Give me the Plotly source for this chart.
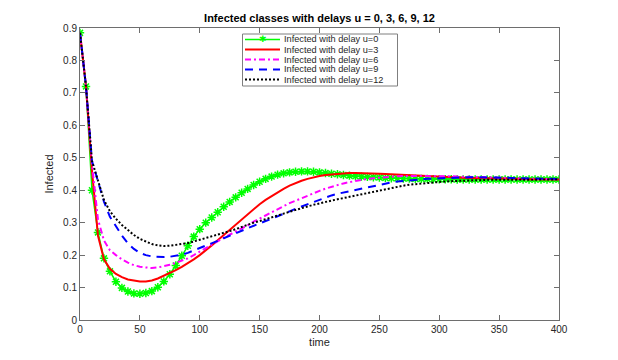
import plotly.graph_objects as go

time = list(range(0, 405, 5))

infected_u0 = [0.885, 0.72, 0.40, 0.27, 0.19, 0.15, 0.118, 0.099, 0.088, 0.082,
               0.081, 0.083, 0.089, 0.101, 0.119, 0.141, 0.168, 0.198, 0.229, 0.257,
               0.28, 0.30, 0.316, 0.332, 0.349, 0.364, 0.378, 0.392, 0.404, 0.416,
               0.426, 0.435, 0.442, 0.448, 0.452, 0.455, 0.457, 0.458, 0.458, 0.457,
               0.455, 0.453, 0.451, 0.449, 0.447, 0.445, 0.443, 0.442, 0.441, 0.44,
               0.439, 0.438, 0.437, 0.437, 0.436, 0.436, 0.435, 0.435, 0.435, 0.434,
               0.434, 0.434, 0.434, 0.433, 0.433, 0.433, 0.433, 0.433, 0.433, 0.433,
               0.433, 0.433, 0.433, 0.433, 0.433, 0.433, 0.433, 0.433, 0.433, 0.433,
               0.433]
infected_u3 = [0.885, 0.72, 0.46, 0.26, 0.187, 0.158, 0.142, 0.132, 0.125, 0.121,
               0.119, 0.119, 0.122, 0.128, 0.136, 0.145, 0.154, 0.164, 0.175, 0.187,
               0.2, 0.214, 0.23, 0.246, 0.262, 0.279, 0.296, 0.312, 0.328, 0.343,
               0.357, 0.37, 0.382, 0.393, 0.404, 0.414, 0.422, 0.429, 0.435, 0.44,
               0.444, 0.447, 0.449, 0.451, 0.452, 0.453, 0.453, 0.453, 0.452, 0.452,
               0.451, 0.45, 0.449, 0.448, 0.447, 0.446, 0.445, 0.444, 0.443, 0.442,
               0.441, 0.44, 0.44, 0.439, 0.439, 0.438, 0.438, 0.437, 0.437, 0.436,
               0.436, 0.436, 0.435, 0.435, 0.435, 0.434, 0.434, 0.434, 0.434, 0.434,
               0.433]
infected_u6 = [0.885, 0.72, 0.48, 0.31, 0.245, 0.215, 0.2, 0.187, 0.177, 0.169,
               0.164, 0.161, 0.16, 0.162, 0.165, 0.17, 0.176, 0.182, 0.19, 0.2,
               0.211, 0.22, 0.231, 0.242, 0.253, 0.263, 0.272, 0.282, 0.292, 0.303,
               0.313, 0.323, 0.333, 0.342, 0.351, 0.36, 0.368, 0.376, 0.383, 0.39,
               0.398, 0.405, 0.411, 0.416, 0.421, 0.425, 0.429, 0.432, 0.435, 0.437,
               0.439, 0.441, 0.442, 0.443, 0.444, 0.444, 0.445, 0.445, 0.445, 0.444,
               0.444, 0.443, 0.443, 0.442, 0.442, 0.441, 0.441, 0.44, 0.44, 0.439,
               0.439, 0.438, 0.437, 0.437, 0.436, 0.436, 0.435, 0.435, 0.434, 0.434,
               0.434]
infected_u9 = [0.885, 0.72, 0.49, 0.43, 0.365, 0.318, 0.287, 0.26, 0.236, 0.219,
               0.207, 0.2, 0.196, 0.194, 0.194, 0.195, 0.197, 0.201, 0.207, 0.214,
               0.221, 0.228, 0.236, 0.244, 0.252, 0.259, 0.267, 0.275, 0.283, 0.291,
               0.298, 0.305, 0.312, 0.319, 0.327, 0.335, 0.343, 0.35, 0.358, 0.365,
               0.372, 0.378, 0.384, 0.389, 0.393, 0.397, 0.401, 0.406, 0.41, 0.414,
               0.418, 0.421, 0.424, 0.427, 0.429, 0.431, 0.433, 0.434, 0.435, 0.436,
               0.437, 0.438, 0.439, 0.439, 0.44, 0.44, 0.44, 0.44, 0.439, 0.439,
               0.439, 0.438, 0.438, 0.437, 0.437, 0.436, 0.436, 0.435, 0.435, 0.435,
               0.434]
infected_u12 = [0.885, 0.72, 0.49, 0.43, 0.37, 0.335, 0.312, 0.293, 0.276, 0.262,
                0.25, 0.241, 0.234, 0.23, 0.228, 0.229, 0.231, 0.234, 0.237, 0.242,
                0.247, 0.252, 0.257, 0.262, 0.267, 0.274, 0.28, 0.287, 0.294, 0.3,
                0.305, 0.31, 0.316, 0.322, 0.328, 0.334, 0.339, 0.344, 0.35, 0.355,
                0.36, 0.364, 0.368, 0.372, 0.376, 0.38, 0.384, 0.388, 0.392, 0.396,
                0.4, 0.404, 0.408, 0.411, 0.414, 0.417, 0.419, 0.421, 0.423, 0.425,
                0.426, 0.427, 0.428, 0.429, 0.43, 0.43, 0.431, 0.431, 0.432, 0.432,
                0.432, 0.433, 0.433, 0.433, 0.433, 0.433, 0.433, 0.433, 0.433, 0.433,
                0.433]

labels = ["Infected with delay u=0", "Infected with delay u=3", "Infected with delay u=6",
          "Infected with delay u=9", "Infected with delay u=12"]
series = [infected_u0, infected_u3, infected_u6, infected_u9, infected_u12]
colors = ["#00ff00", "#ff0000", "#ff00ff", "#0000ff", "#000000"]
dashes = ["solid", "solid", "6px,3px,2px,3px", "8px,6px", "2px,2px"]
widths = [1.5, 2, 2, 2, 2]

fig = go.Figure()
for i in range(5):
    fig.add_trace(go.Scatter(
        x=time, y=series[i], name=labels[i],
        mode="lines+markers" if i == 0 else "lines",
        line=dict(color=colors[i], width=widths[i], dash=dashes[i]),
        marker=dict(symbol="asterisk-open", size=7, line=dict(color=colors[i], width=1.5)),
        showlegend=False,
    ))

# page has an 8px body margin, so the figure is 8px smaller than the window
W, H = 610, 352
L, R, T, B = 72, 59, 20, 40
pw, ph = W - L - R, H - T - B

# legend drawn by hand so rows stay as tight as the original (screen pixels)
px = lambda v: (v - 8 - L) / pw
py = lambda v: (H - B + 8 - v) / ph
fig.add_shape(type="rect", xref="paper", yref="paper",
              x0=px(242.5), x1=px(397.5), y0=py(86), y1=py(34),
              line=dict(color="#7f7f7f", width=1), fillcolor="white", layer="above")
rows = [39.5, 49.5, 59.5, 69.5, 79.5]
for i in range(5):
    fig.add_shape(type="line", xref="paper", yref="paper",
                  x0=px(245), x1=px(280), y0=py(rows[i]), y1=py(rows[i]),
                  line=dict(color=colors[i], width=widths[i], dash=dashes[i]), layer="above")
    fig.add_annotation(text=labels[i], xref="paper", yref="paper",
                       x=px(283), y=py(rows[i]), xanchor="left", yanchor="middle",
                       showarrow=False, borderpad=0, font=dict(size=9.2, color="#262626"))
fig.add_annotation(text="✱", xref="paper", yref="paper", x=px(262.5), y=py(rows[0]),
                   xanchor="center", yanchor="middle", showarrow=False, borderpad=0,
                   font=dict(size=9, color=colors[0]))

axis_style = dict(showline=True, linecolor="#6e6e6e", linewidth=1, mirror="ticks",
                  ticks="inside", ticklen=5, tickcolor="#6e6e6e", showgrid=False,
                  zeroline=False, automargin=False, tickfont=dict(size=10, color="#262626"))

fig.update_layout(
    width=W, height=H,
    margin=dict(l=L, r=R, t=T, b=B),
    paper_bgcolor="white", plot_bgcolor="white",
    font=dict(family="Liberation Sans, Arial, sans-serif", color="#262626"),
    title=dict(text="<b>Infected classes with delays u = 0, 3, 6, 9, 12</b>",
               x=(L + pw / 2) / W, xanchor="center", y=1 - 10 / H, yanchor="middle",
               font=dict(size=11, color="black")),
    xaxis=dict(range=[0, 400], tickvals=[0, 50, 100, 150, 200, 250, 300, 350, 400],
               title=dict(text="time", font=dict(size=11), standoff=4), **axis_style),
    yaxis=dict(range=[0, 0.9], tickvals=[0, 0.1, 0.2, 0.3, 0.4, 0.5, 0.6, 0.7, 0.8, 0.9],
               title=dict(text="Infected", font=dict(size=11), standoff=7), **axis_style),
)

fig.write_html("out.html")
